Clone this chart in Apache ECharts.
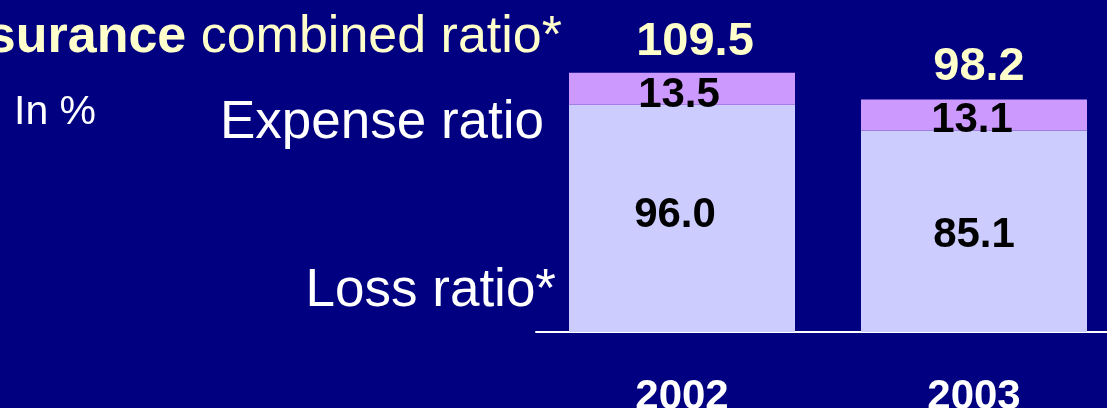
<!DOCTYPE html>
<html>
<head>
<meta charset="utf-8">
<script src="https://cdn.jsdelivr.net/npm/echarts@6/dist/echarts.min.js"></script>
<style>
  html, body { margin: 0; padding: 0; background: #000080; }
  #chart { width: 1107px; height: 408px; }
</style>
</head>
<body>
<div id="chart"></div>
<script>
// data
const years = ['2002', '2003'];
const lossRatio = [96.0, 85.1];
const expenseRatio = [13.5, 13.1];
const combinedRatio = [109.5, 98.2];

const FONT = '"Liberation Sans", Arial, sans-serif';

// per-bar label tweaks (slide text isn't perfectly centred)
const lossOffsets = [[-7, -3], [0, 4]];
const expenseOffsets = [[-3, 7], [-2, 5]];
const totalOffsets = [[13, -7], [5, -9]];

const chart = echarts.init(document.getElementById('chart'));

const fmt = p => Number(p.value).toFixed(1);

chart.setOption({
  backgroundColor: '#000080',
  animation: false,
  grid: { left: 536, top: 48, width: 584, height: 284, outerBoundsMode: 'none', containLabel: false },
  xAxis: {
    type: 'category',
    data: years,
    axisLine: { show: true, lineStyle: { color: '#ffffff', width: 2 } },
    axisTick: { show: false },
    axisLabel: {
      color: '#ffffff',
      fontFamily: FONT,
      fontWeight: 'bold',
      fontSize: 42,
      margin: 44
    }
  },
  yAxis: {
    type: 'value',
    min: 0,
    max: 120,
    show: false
  },
  series: [
    {
      name: 'Loss ratio*',
      type: 'bar',
      stack: 'combined',
      barCategoryGap: '22.6%',
      itemStyle: { color: '#ccccff' },
      data: lossRatio.map((v, i) => ({
        value: v,
        label: { offset: lossOffsets[i] }
      })),
      label: {
        show: true,
        position: 'inside',
        formatter: fmt,
        color: '#000000',
        fontFamily: FONT,
        fontWeight: 'bold',
        fontSize: 42
      }
    },
    {
      name: 'Expense ratio',
      type: 'bar',
      stack: 'combined',
      itemStyle: { color: '#cc99ff' },
      data: expenseRatio.map((v, i) => ({
        value: v,
        label: { offset: expenseOffsets[i] }
      })),
      label: {
        show: true,
        position: 'inside',
        formatter: fmt,
        color: '#000000',
        fontFamily: FONT,
        fontWeight: 'bold',
        fontSize: 42
      }
    },
    {
      // invisible bar, only carries the combined ratio on top
      name: 'Combined ratio',
      type: 'bar',
      barGap: '-100%',
      z: 1,
      itemStyle: { color: 'rgba(0,0,0,0)' },
      data: combinedRatio.map((v, i) => ({
        value: v,
        label: { offset: totalOffsets[i] }
      })),
      label: {
        show: true,
        position: 'top',
        distance: 0,
        formatter: fmt,
        color: '#ffffcc',
        fontFamily: FONT,
        fontWeight: 'bold',
        fontSize: 47
      }
    }
  ],
  graphic: [
    {
      type: 'text',
      x: 562,
      y: 38,
      style: {
        text: '{b|surance}{n| combined ratio*}',
        align: 'right',
        verticalAlign: 'middle',
        fill: '#ffffcc',
        font: '52px ' + FONT,
        rich: {
          b: { fontFamily: FONT, fontWeight: 'bold', fontSize: 52, fill: '#ffffcc' },
          n: { fontFamily: FONT, fontSize: 52, fill: '#ffffcc' }
        }
      }
    },
    {
      type: 'text',
      x: 14,
      y: 113,
      style: {
        text: 'In %',
        verticalAlign: 'middle',
        fill: '#ffffff',
        font: '41px ' + FONT
      }
    },
    {
      type: 'text',
      x: 544,
      y: 123,
      style: {
        text: 'Expense ratio',
        align: 'right',
        verticalAlign: 'middle',
        fill: '#ffffff',
        font: '53px ' + FONT
      }
    },
    {
      type: 'text',
      x: 556,
      y: 291,
      style: {
        text: 'Loss ratio*',
        align: 'right',
        verticalAlign: 'middle',
        fill: '#ffffff',
        font: '53px ' + FONT
      }
    }
  ]
});
</script>
</body>
</html>
